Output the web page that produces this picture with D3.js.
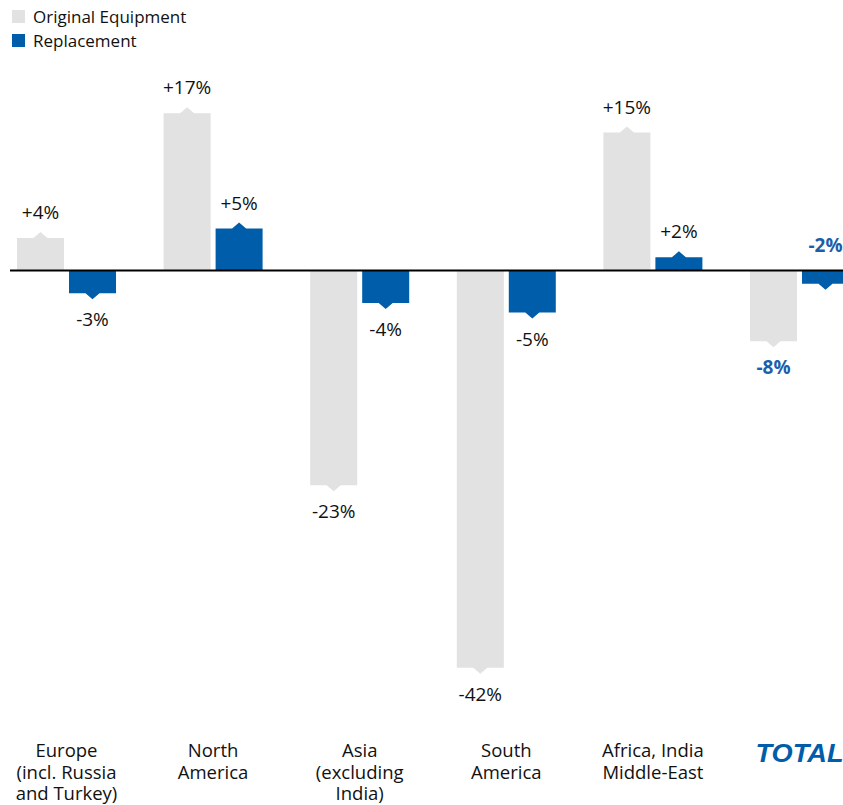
<!DOCTYPE html>
<html>
<head>
<meta charset="utf-8">
<script src="https://cdn.jsdelivr.net/npm/d3@7"></script>
<style>
  html, body { margin: 0; padding: 0; background: #fff; }
  svg { display: block; font-family: "Open Sans", "Noto Sans", sans-serif; }
</style>
</head>
<body>
<svg id="chart" width="843" height="805"></svg>
<script>
// Market change by region, tyre segments
const categories = [
  ["Europe", "(incl. Russia", "and Turkey)"],
  ["North", "America"],
  ["Asia", "(excluding", "India)"],
  ["South", "America"],
  ["Africa, India", "Middle-East"],
  ["TOTAL"]
];
const seriesNames = ["Original Equipment", "Replacement"];
const originalEquipment = [4, 17, -23, -42, 15, -8];
const replacement = [-3, 5, -4, -5, 2, -2];
const oeLabels = ["+4%", "+17%", "-23%", "-42%", "+15%", "-8%"];
const repLabels = ["-3%", "+5%", "-4%", "-5%", "+2%", "-2%"];

const colors = { oe: "#e2e2e2", rep: "#005da9", total: "#1a5faa", text: "#111" };

const svg = d3.select("#chart");
const W = 843;

const groupIds = d3.range(categories.length);
const step = 146.6;
const x0 = d3.scaleBand()
  .domain(groupIds)
  .range([17, 17 + step * (groupIds.length - 0.3247)])
  .paddingInner(0.3247)
  .paddingOuter(0);
const x1 = d3.scaleBand()
  .domain([0, 1])
  .range([0, x0.bandwidth()])
  .paddingInner(0.096)
  .paddingOuter(0);
const y = d3.scaleLinear().domain([-45, 20]).range([270.5 + 45 * 9.6, 270.5 - 20 * 9.6]);

const notch = 6, notchHalf = 7;
const lastGroup = groupIds.length - 1;

const rows = groupIds.flatMap(g => [
  { g, s: 0, v: originalEquipment[g], label: oeLabels[g] },
  { g, s: 1, v: replacement[g], label: repLabels[g] }
]);

// bar body ends a notch short of the value; the tip marks the value
function barPath(d) {
  const xl = x0(d.g) + x1(d.s), w = x1.bandwidth();
  const y0 = y(0), yv = y(d.v);
  const dir = d.v >= 0 ? -1 : 1;
  const yb = yv - dir * notch;
  const cx = xl + w / 2;
  return `M${xl},${y0}L${xl},${yb}L${cx - notchHalf},${yb}L${cx},${yv}L${cx + notchHalf},${yb}L${xl + w},${yb}L${xl + w},${y0}Z`;
}

svg.append("g").selectAll("path").data(rows).join("path")
  .attr("d", barPath)
  .attr("fill", d => d.s === 0 ? colors.oe : colors.rep);

// zero line
svg.append("line")
  .attr("x1", 10).attr("x2", W)
  .attr("y1", y(0)).attr("y2", y(0))
  .attr("stroke", "#000").attr("stroke-width", 2);

// value labels; the total replacement label sits above the zero line
function labelY(d) {
  if (d.g === lastGroup && d.s === 1) return y(0) - 19;
  return d.v >= 0 ? y(d.v) - 13 : y(d.v) + 27;
}
svg.append("g").selectAll("text").data(rows).join("text")
  .attr("x", d => x0(d.g) + x1(d.s) + x1.bandwidth() / 2)
  .attr("y", labelY)
  .attr("text-anchor", "middle")
  .attr("font-size", 19)
  .attr("font-weight", d => d.g === lastGroup ? 700 : 400)
  .attr("fill", d => d.g === lastGroup ? colors.total : colors.text)
  .text(d => d.label);

// category labels
const cat = svg.append("g").selectAll("text").data(groupIds.slice(0, lastGroup)).join("text")
  .attr("x", g => x0(g) + x0.bandwidth() / 2)
  .attr("y", 757)
  .attr("text-anchor", "middle")
  .attr("font-size", 18.5)
  .attr("fill", colors.text);
cat.selectAll("tspan").data(g => categories[g]).join("tspan")
  .attr("x", function() { return d3.select(this.parentNode).attr("x"); })
  .attr("dy", (d, i) => i === 0 ? 0 : 21.5)
  .text(d => d);

// TOTAL wordmark
svg.append("text")
  .attr("x", x0(lastGroup) + x0.bandwidth() / 2)
  .attr("y", 762)
  .attr("text-anchor", "middle")
  .attr("font-family", "'Liberation Sans', Arial, sans-serif")
  .attr("font-style", "italic")
  .attr("font-weight", 900)
  .attr("font-size", 25)
  .attr("textLength", 88)
  .attr("lengthAdjust", "spacingAndGlyphs")
  .attr("fill", colors.rep)
  .text(categories[lastGroup][0]);

// legend
const legend = svg.append("g").selectAll("g").data(seriesNames).join("g")
  .attr("transform", (d, i) => `translate(12, ${10 + i * 24})`);
legend.append("rect").attr("width", 13).attr("height", 13)
  .attr("fill", (d, i) => i === 0 ? colors.oe : colors.rep);
legend.append("text").attr("x", 21).attr("y", 12.5)
  .attr("font-size", 17).attr("fill", colors.text)
  .text(d => d);
</script>
</body>
</html>
